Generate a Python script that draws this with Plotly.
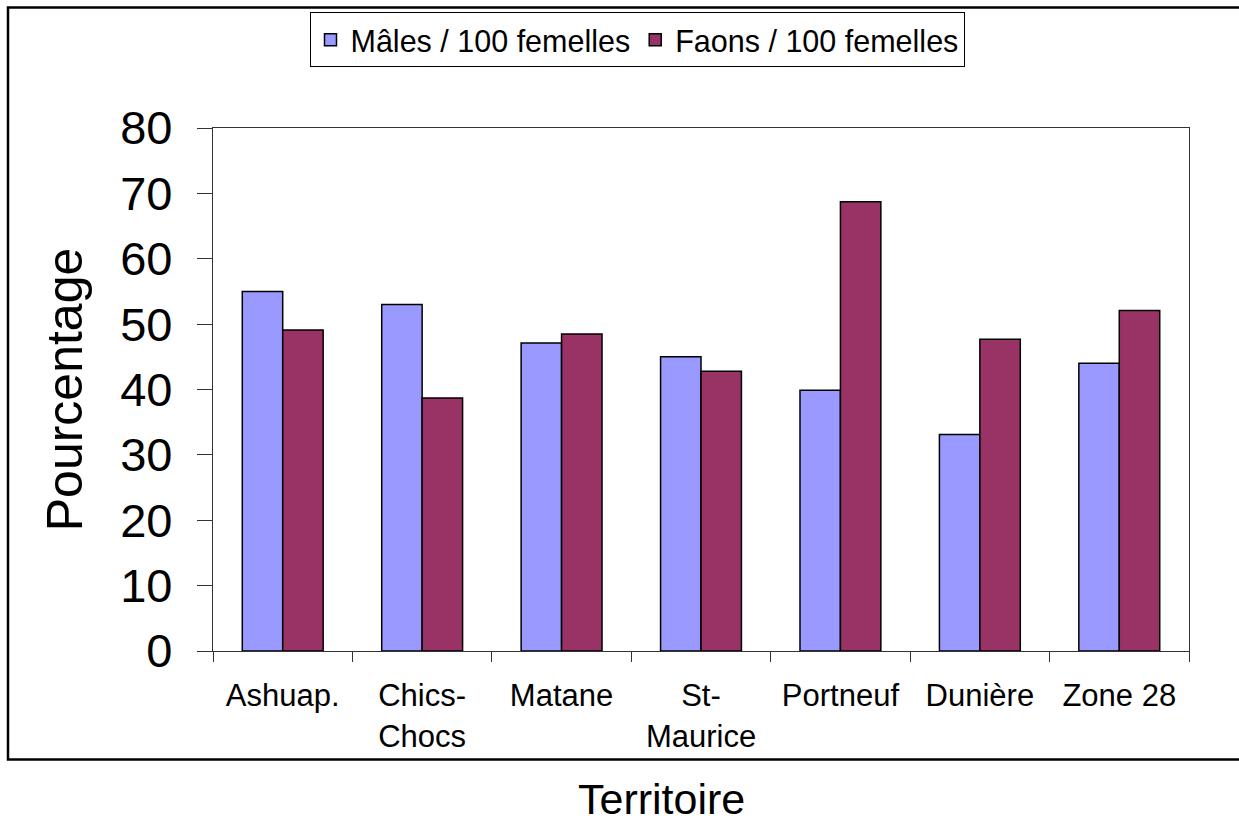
import plotly.graph_objects as go

categories = ["Ashuap.", "Chics-<br>Chocs", "Matane", "St-<br>Maurice", "Portneuf", "Dunière", "Zone 28"]
males = [55.0, 53.0, 47.1, 45.0, 39.9, 33.1, 44.0]
faons = [49.1, 38.7, 48.5, 42.8, 68.7, 47.7, 52.1]
series_names = ["Mâles / 100 femelles", "Faons / 100 femelles"]
y_ticks = [0, 10, 20, 30, 40, 50, 60, 70, 80]

FONT = "Liberation Sans, Arial, sans-serif"

fig = go.Figure()
fig.add_trace(go.Bar(x=categories, y=males, name=series_names[0],
                     marker=dict(color="#9999FF", line=dict(color="black", width=1.5))))
fig.add_trace(go.Bar(x=categories, y=faons, name=series_names[1],
                     marker=dict(color="#993366", line=dict(color="black", width=1.5))))

W, H = 1239, 824
L, R, T, B = 213, 50, 126, 173
pw, ph = W - L - R, H - T - B

def px_x(p):
    return (p - L) / pw

def px_y(p):
    return (H - B - p) / ph

fig.update_layout(
    width=W, height=H,
    margin=dict(l=L, r=R, t=T, b=B, pad=0),
    paper_bgcolor="white", plot_bgcolor="white",
    font=dict(family=FONT, color="black"),
    barmode="group", bargap=0.42, bargroupgap=0,
    legend=dict(orientation="h", x=px_x(637), xanchor="center", y=px_y(10), yanchor="top",
                font=dict(size=30.5, family=FONT), bordercolor="black", borderwidth=1,
                bgcolor="white", itemwidth=30, tracegroupgap=0),
    showlegend=True,
    xaxis=dict(
        type="category",
        showline=True, linecolor="#333", linewidth=1.2, mirror=True,
        ticks="outside", tickson="boundaries", ticklen=10, tickcolor="#333",
        tickfont=dict(size=31, family=FONT), ticklabelstandoff=17,
        showgrid=False, zeroline=False,
    ),
    yaxis=dict(
        range=[0, 80], tickvals=y_ticks,
        showline=True, linecolor="#333", linewidth=1.2, mirror=True,
        ticks="outside", ticklen=15, tickcolor="#333",
        tickfont=dict(size=47, family=FONT), ticklabelstandoff=15,
        title=dict(text="Pourcentage", font=dict(size=50, family=FONT), standoff=21),
        showgrid=False, zeroline=False,
    ),
    annotations=[dict(text="Territoire", xref="paper", yref="paper",
                      x=px_x(661), y=px_y(800), xanchor="center", yanchor="middle",
                      showarrow=False, font=dict(size=43, family=FONT))],
    shapes=[dict(type="rect", xref="paper", yref="paper",
                 x0=px_x(8), x1=px_x(1250), y0=px_y(760), y1=px_y(5),
                 line=dict(color="black", width=2.5), layer="below")],
)

fig.write_html("out.html", config={"displayModeBar": False},
               post_script="document.body.style.margin='0px';")
